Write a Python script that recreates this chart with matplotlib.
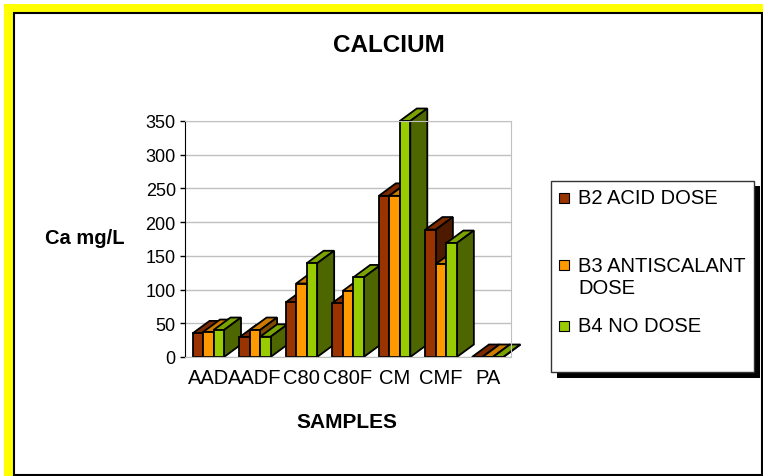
import matplotlib
matplotlib.use("Agg")
import matplotlib.pyplot as plt
from matplotlib.patches import Rectangle, Polygon
from matplotlib.colors import to_rgb

# ── Data ──
samples = ["AAD", "AADF", "C80", "C80F", "CM", "CMF", "PA"]
b2_acid_dose = [35, 29, 81, 80, 239, 189, 0]
b3_antiscalant_dose = [37, 40, 109, 98, 239, 138, 0]
b4_no_dose = [40, 30, 139, 118, 350, 169, 0]
series_names = ["B2 ACID DOSE", "B3 ANTISCALANT\nDOSE", "B4 NO DOSE"]
series_colors = ["#993300", "#FF9900", "#99CC00"]
y_ticks = [0, 50, 100, 150, 200, 250, 300, 350]

W, H = 763, 477
plt.rcParams["font.family"] = ["Liberation Sans", "DejaVu Sans"]
fig = plt.figure(figsize=(W / 100, H / 100), dpi=100)


def fx(x):
    return x / W


def fy(y):
    return 1 - y / H


def shade(color, k):
    r, g, b = to_rgb(color)
    return (r * k, g * k, b * k)


# ── Frame: yellow border on top/left, white panel with black edge ──
fig.add_artist(Rectangle((fx(4), 0), 1 - fx(4), fy(5), transform=fig.transFigure,
                         facecolor="#FFFF00", edgecolor="none", zorder=-2))
fig.add_artist(Rectangle((fx(14), fy(476)), fx(762) - fx(14), fy(14) - fy(476),
                         transform=fig.transFigure, facecolor="white",
                         edgecolor="black", linewidth=1.5, zorder=-1))

# ── Plot area ──
ax_left, ax_right, ax_top, ax_bottom = 185, 511, 122, 358
ax = fig.add_axes([fx(ax_left), fy(ax_bottom), fx(ax_right) - fx(ax_left),
                   fy(ax_top) - fy(ax_bottom)])
ax.set_zorder(1)
ax.set_facecolor("none")
ax.set_xlim(-0.5, len(samples) - 0.5)
ax.set_ylim(0, 350)
ax.set_yticks(y_ticks)
ax.set_xticks(range(len(samples)))
ax.set_xticklabels(samples, fontsize=14.5)
ax.tick_params(axis="x", length=0, pad=8)
ax.tick_params(axis="y", direction="out", length=3.6, width=1, pad=3, labelsize=13)
ax.yaxis.grid(True, color="#c0c0c0", linewidth=1)
ax.set_axisbelow(True)
for side in ["top", "right", "bottom"]:
    ax.spines[side].set_color("#c0c0c0")
ax.spines["left"].set_color("black")

# depth offset of the 3D look, in data units
cat_px = (ax_right - ax_left) / len(samples)
val_px = (ax_bottom - ax_top) / 350
dx = 17 / cat_px
dy = 12.5 / val_px

w = 0.225
lw = 1.3
all_series = [b2_acid_dose, b3_antiscalant_dose, b4_no_dose]
for i in range(len(samples)):
    for j, (vals, color) in enumerate(zip(all_series, series_colors)):
        h = vals[i]
        x0 = i + (j - 1) * w - w / 2
        z = 2 + (i * 3 + j) * 0.01
        bars = ax.bar(x0, h, width=w, align="edge", color=color,
                      edgecolor="black", linewidth=lw, zorder=z + 0.005)
        bars[0].set_clip_on(False)
        top = Polygon([(x0, h), (x0 + w, h), (x0 + w + dx, h + dy), (x0 + dx, h + dy)],
                      closed=True, facecolor=shade(color, 0.8), edgecolor="black",
                      linewidth=lw, zorder=z, clip_on=False, joinstyle="miter")
        side = Polygon([(x0 + w, 0), (x0 + w + dx, dy), (x0 + w + dx, h + dy), (x0 + w, h)],
                       closed=True, facecolor=shade(color, 0.5), edgecolor="black",
                       linewidth=lw, zorder=z, clip_on=False, joinstyle="miter")
        ax.add_patch(top)
        ax.add_patch(side)

# ── Titles ──
fig.text(fx(389), fy(46), "CALCIUM", ha="center", va="center",
         fontsize=17.5, fontweight="bold")
fig.text(fx(85), fy(239), "Ca mg/L", ha="center", va="center",
         fontsize=14.5, fontweight="bold")
fig.text(fx(347), fy(423), "SAMPLES", ha="center", va="center",
         fontsize=15, fontweight="bold")

# ── Legend (drawn by hand to keep Excel's uneven spacing) ──
fig.add_artist(Rectangle((fx(557), fy(379)), fx(760) - fx(557), fy(187) - fy(379),
                         transform=fig.transFigure, facecolor="black",
                         edgecolor="none", zorder=5))
fig.add_artist(Rectangle((fx(551), fy(373)), fx(754) - fx(551), fy(182) - fy(373),
                         transform=fig.transFigure, facecolor="white",
                         edgecolor="#333333", linewidth=1, zorder=6))
marker_rows = [199, 266, 327]
text_rows = [199, 278, 327]
for name, color, my, ty in zip(series_names, series_colors, marker_rows, text_rows):
    fig.add_artist(Rectangle((fx(559), fy(my + 5)), fx(569) - fx(559), fy(my - 5) - fy(my + 5),
                             transform=fig.transFigure, facecolor=color,
                             edgecolor="black", linewidth=0.8, zorder=7))
    fig.text(fx(578), fy(ty), name, ha="left", va="center", fontsize=14.5,
             linespacing=1.2, zorder=7)

fig.savefig("out.png", dpi=100)
